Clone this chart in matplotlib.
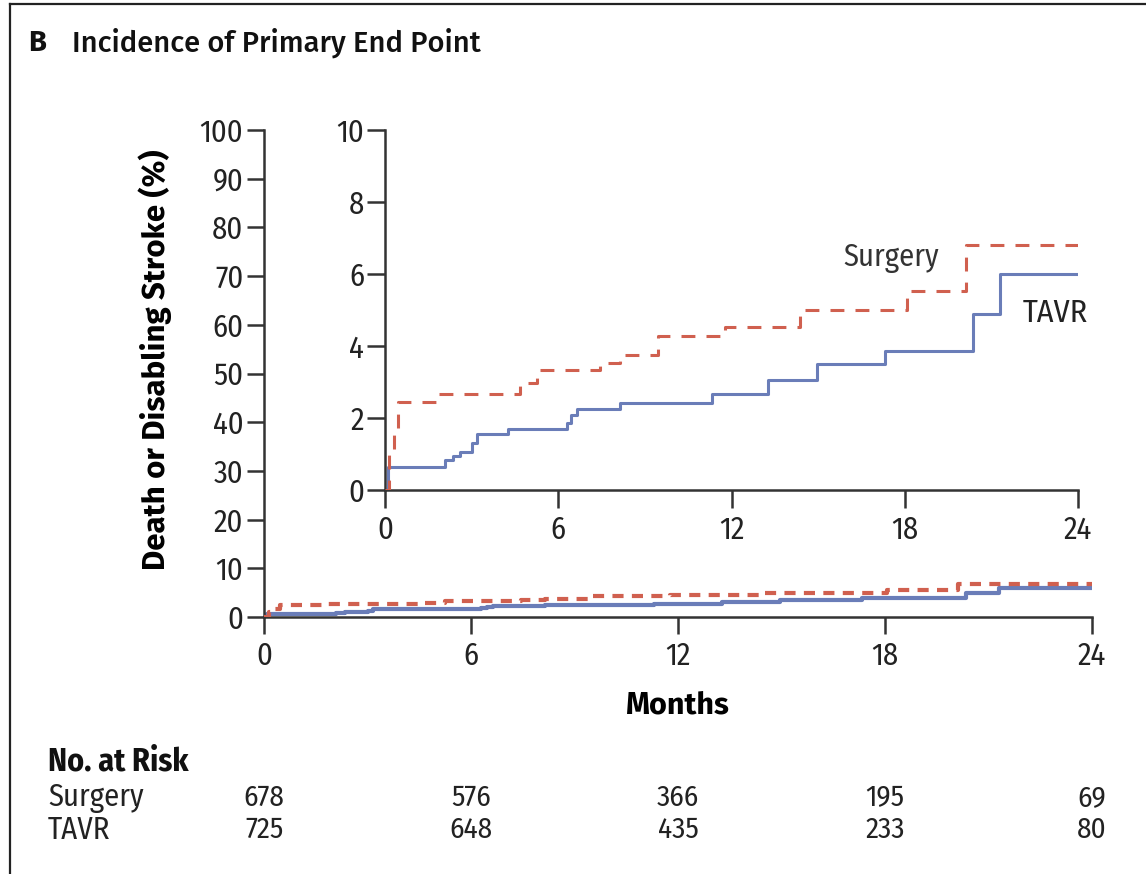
import matplotlib
matplotlib.use("Agg")
import matplotlib.pyplot as plt
import matplotlib.transforms as mtransforms
from matplotlib import font_manager

# ---- data -------------------------------------------------------------
tavr_months = [0, 0.1, 2.08, 2.35, 2.6, 3.0, 3.17, 4.27, 6.29, 6.45, 6.64,
               8.14, 11.31, 13.28, 14.95, 17.32, 20.35, 21.3, 24]
tavr_pct = [0, 0.65, 0.83, 0.95, 1.06, 1.3, 1.55, 1.69, 1.87, 2.08, 2.24,
            2.43, 2.67, 3.06, 3.5, 3.87, 4.9, 6.0, 6.0]

surgery_months = [0, 0.15, 0.3, 0.45, 1.75, 4.68, 5.25, 7.45, 8.14, 9.47,
                  11.77, 14.37, 18.07, 20.12, 24]
surgery_pct = [0, 1.0, 1.6, 2.45, 2.67, 2.96, 3.33, 3.54, 3.75, 4.29,
               4.54, 5.0, 5.54, 6.8, 6.8]

risk_months = [0, 6, 12, 18, 24]
risk_surgery = [678, 576, 366, 195, 69]
risk_tavr = [725, 648, 435, 233, 80]

main_yticks = list(range(0, 101, 10))
inset_yticks = [0, 2, 4, 6, 8, 10]
xticks = [0, 6, 12, 18, 24]

# ---- fonts ------------------------------------------------------------
available = {f.name for f in font_manager.fontManager.ttflist}


def pick(*cands):
    for c in cands:
        if c in available:
            return c
    return "DejaVu Sans"


COND = pick("Fira Sans Condensed", "Asap Condensed", "Roboto Condensed",
            "Archivo Narrow", "Liberation Sans Narrow")
HEAD = pick("Fira Sans", "Asap", "Lato")
plt.rcParams["font.family"] = [COND, "DejaVu Sans"]
plt.rcParams["lines.scale_dashes"] = False

RED = "#d0604f"
BLUE = "#6a7db8"
AX = "#333333"
TXT = "#222222"
TICK_FS = 22

W, H = 1146, 874
fig = plt.figure(figsize=(W / 100, H / 100), dpi=100)
fig.patch.set_facecolor("white")


def fx(px):
    return px / W


def fy(py):
    return 1 - py / H


# panel frame (top and left edges)
fig.add_artist(plt.Line2D([fx(10), fx(10)], [fy(4), fy(874)], color="#222222", lw=1.6,
                          transform=fig.transFigure))
fig.add_artist(plt.Line2D([fx(10), fx(1146)], [fy(4), fy(4)], color="#222222", lw=1.6,
                          transform=fig.transFigure))

fig.text(fx(28), fy(43), "B", fontsize=21, fontweight="bold", va="center", ha="left",
         family=[HEAD, "DejaVu Sans"], color="#111111")
fig.text(fx(72), fy(43), "Incidence of Primary End Point", fontsize=21, fontweight=500,
         va="center", ha="left", family=[HEAD, "DejaVu Sans"], color="#111111")


def style_axes(ax, ticklen):
    for side in ("top", "right"):
        ax.spines[side].set_visible(False)
    for side in ("left", "bottom"):
        ax.spines[side].set_color(AX)
        ax.spines[side].set_linewidth(1.8)
    ax.tick_params(axis="both", direction="out", length=ticklen, width=1.8, color=AX,
                   labelsize=TICK_FS, labelcolor=TXT)


# ---- main axes --------------------------------------------------------
ax = fig.add_axes([fx(264), fy(617), fx(1092 - 264), (617 - 130) / H])
ax.step(surgery_months, surgery_pct, where="post", color=RED, lw=3,
        dashes=(8, 6), zorder=3)
ax.step(tavr_months, tavr_pct, where="post", color=BLUE, lw=3, zorder=2)
ax.set_xlim(0, 24)
ax.set_ylim(0, 100)
ax.set_xticks(xticks)
ax.set_yticks(main_yticks)
style_axes(ax, 12)
ax.tick_params(axis="x", pad=5)
ax.tick_params(axis="y", pad=3)
ax.set_ylabel("Death or Disabling Stroke (%)", fontsize=22.5, fontweight="bold",
              family=[HEAD, "DejaVu Sans"], va="center")
ax.yaxis.set_label_coords(-0.132, 0.528)
ax.set_xlabel("Months", fontsize=22, fontweight="bold", family=[HEAD, "DejaVu Sans"],
              labelpad=14)
ax.patch.set_alpha(0)

# ---- inset axes -------------------------------------------------------
ins = fig.add_axes([fx(385), fy(490), fx(1078 - 385), (490 - 130) / H])
ins.step(surgery_months, surgery_pct, where="post", color=RED, lw=2.2,
         dashes=(10, 8), zorder=3)
ins.step(tavr_months, tavr_pct, where="post", color=BLUE, lw=2.2, zorder=2)
ins.set_xlim(0, 24)
ins.set_ylim(0, 10)
ins.set_xticks(xticks)
ins.set_yticks(inset_yticks)
style_axes(ins, 13)
ins.tick_params(axis="x", pad=5)
ins.tick_params(axis="y", pad=2)
ins.patch.set_facecolor("white")

ins.text(19.2, 6.45, "Surgery", fontsize=22, ha="right", va="center", color="#333333")
ins.text(22.1, 4.9, "TAVR", fontsize=23, ha="left", va="center", color=TXT)

# ---- number at risk ---------------------------------------------------
blend = mtransforms.blended_transform_factory(ax.transData, fig.transFigure)
fig.text(fx(48), fy(762), "No. at Risk", fontsize=23, fontweight="bold", va="center",
         ha="left", color="#111111")
fig.text(fx(48), fy(798), "Surgery", fontsize=22, va="center", ha="left", color=TXT)
fig.text(fx(48), fy(830), "TAVR", fontsize=22, va="center", ha="left", color=TXT)
for m, s, t in zip(risk_months, risk_surgery, risk_tavr):
    fig.text(m, fy(798), str(s), fontsize=21, va="center", ha="center",
             transform=blend, color=TXT)
    fig.text(m, fy(830), str(t), fontsize=21, va="center", ha="center",
             transform=blend, color=TXT)

fig.savefig("out.png", dpi=100, facecolor="white")
